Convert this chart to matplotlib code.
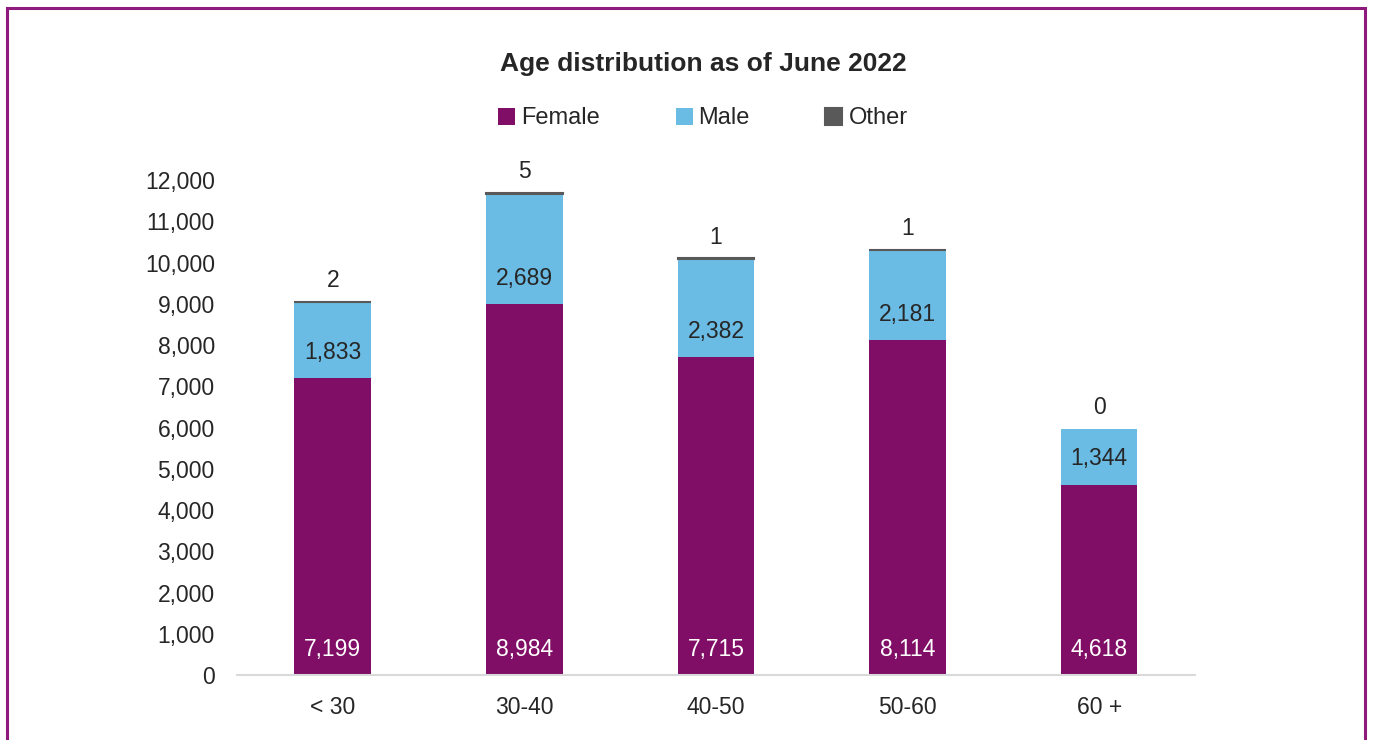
import matplotlib as mpl
mpl.use('Agg')
import matplotlib.pyplot as plt
from matplotlib.patches import Rectangle
import numpy as np

plt.rcParams['font.family'] = ['Liberation Sans', 'DejaVu Sans']

age_groups = ['< 30', '30-40', '40-50', '50-60', '60 +']
female = [7199, 8984, 7715, 8114, 4618]
male = [1833, 2689, 2382, 2181, 1344]
other = [2, 5, 1, 1, 0]

c_female = '#800E66'
c_male = '#6BBCE4'
c_other = '#595959'
txt = '#262626'

fig = plt.figure(figsize=(13.73, 7.40), dpi=100)
ax = fig.add_axes([0.1726, 0.0878, 0.6977, 0.6968])

x = np.arange(len(age_groups))
w = 0.40
female = np.array(female)
male = np.array(male)
other = np.array(other)

ax.bar(x, female, w, color=c_female, label='Female')
ax.bar(x, male, w, bottom=female, color=c_male, label='Male')
ax.bar(x, other, w, bottom=female + male, color=c_other, label='Other',
       edgecolor=c_other, linewidth=[1.5 if v > 0 else 0 for v in other])

# value labels: female/male near segment base, other above the stack
off = 620
fs = 16.5
for i in range(len(x)):
    ax.text(x[i], off, '{:,}'.format(female[i]), ha='center', va='center',
            color='white', fontsize=fs)
    ax.text(x[i], female[i] + off, '{:,}'.format(male[i]), ha='center',
            va='center', color=txt, fontsize=fs)
    ax.text(x[i], female[i] + male[i] + other[i] + 520, '{:,}'.format(other[i]),
            ha='center', va='center', color=txt, fontsize=fs)

ax.set_xlim(-0.5, len(x) - 0.5)
ax.set_ylim(0, 12500)
ax.set_yticks(np.arange(0, 12001, 1000))
ax.yaxis.set_major_formatter(mpl.ticker.FuncFormatter(lambda v, p: '{:,.0f}'.format(v)))
ax.set_xticks(x)
ax.set_xticklabels(age_groups)
ax.tick_params(axis='both', length=0, labelsize=fs, labelcolor=txt)
ax.tick_params(axis='y', pad=16)
ax.tick_params(axis='x', pad=15)
for s in ('top', 'right', 'left'):
    ax.spines[s].set_visible(False)
ax.spines['bottom'].set_color('#d9d9d9')
ax.spines['bottom'].set_linewidth(1.5)

fig.text(0.512, 0.914, 'Age distribution as of June 2022', ha='center',
         va='center', fontsize=19, fontweight='bold', color=txt)

fig.legend(loc='center', bbox_to_anchor=(0.512, 0.840), ncol=3, frameon=False,
           fontsize=17, handlelength=0.72, handleheight=0.72, handletextpad=0.25,
           columnspacing=3.2, labelcolor=txt)

# frame around the figure, open at the bottom
fig.patches.append(Rectangle((7 / 1373, -0.05), 1358 / 1373, 1.05 - 8 / 740,
                             transform=fig.transFigure, fill=False,
                             edgecolor='#8E1B7C', linewidth=2.2))

fig.savefig('out.png', dpi=100)
